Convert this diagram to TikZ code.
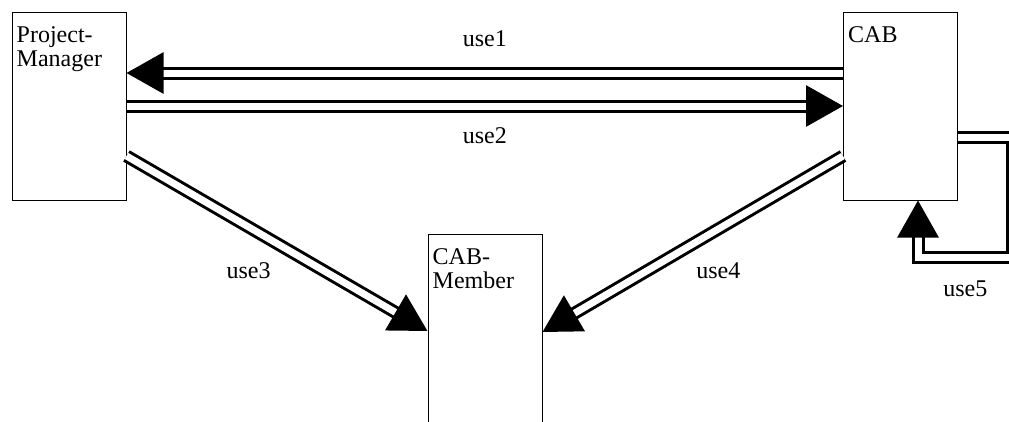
\documentclass[tikz,border=0pt]{standalone}
\usepackage{fontspec}
\setmainfont{Liberation Serif}
\usetikzlibrary{arrows.meta,positioning}

\tikzset{
  entity/.style  = {shape=rectangle, draw, line width=1pt,
                    minimum width=114pt, minimum height=188pt},
  boxname/.style = {anchor=north west, align=left,
                    inner xsep=5pt, inner ysep=14.5pt},
  use/.style     = {draw, line width=3pt, double, double distance=7pt,
                    -{Triangle[length=37pt, width=41pt]}},
  usename/.style = {inner sep=0pt}
}

\begin{document}
\begin{tikzpicture}
[
    x=1pt, y=-1pt,
    every node/.style = {font=\fontsize{24}{24}\selectfont}
  ]
\useasboundingbox (0,0) rectangle (1009,421);

\node[entity, label={[boxname]north west:Project-\\Manager}] (pm) at (69,106) {};
\node[entity, label={[boxname]north west:CAB}] (cab) at (900.5,106) {};
\node[entity, label={[boxname]north west:CAB-\\Member}] (member) at (485,328) {};

\coordinate (turn) at (1012.5,257);

\draw[use] ([yshift=33pt]cab.west) -- node[usename, above=25pt]{use1} ([yshift=33pt]pm.east);
\draw[use] (pm.east) -- node[usename, below=20pt]{use2} (cab.west);
\draw[use] ([yshift=-50pt]pm.east) -- node[usename, below left=18pt and 5pt]{use3} ([yshift=-3pt]member.west);
\draw[use] ([yshift=-50pt]cab.west) -- node[usename, below right=17.5pt and 2pt]{use4} ([yshift=-4pt]member.east);
\draw[use] ([yshift=-31pt]cab.east) -| (turn)
   -| node[usename, pos=.25, below=22pt]{use5} ([xshift=17.5pt]cab.south);
\end{tikzpicture}
\end{document}
